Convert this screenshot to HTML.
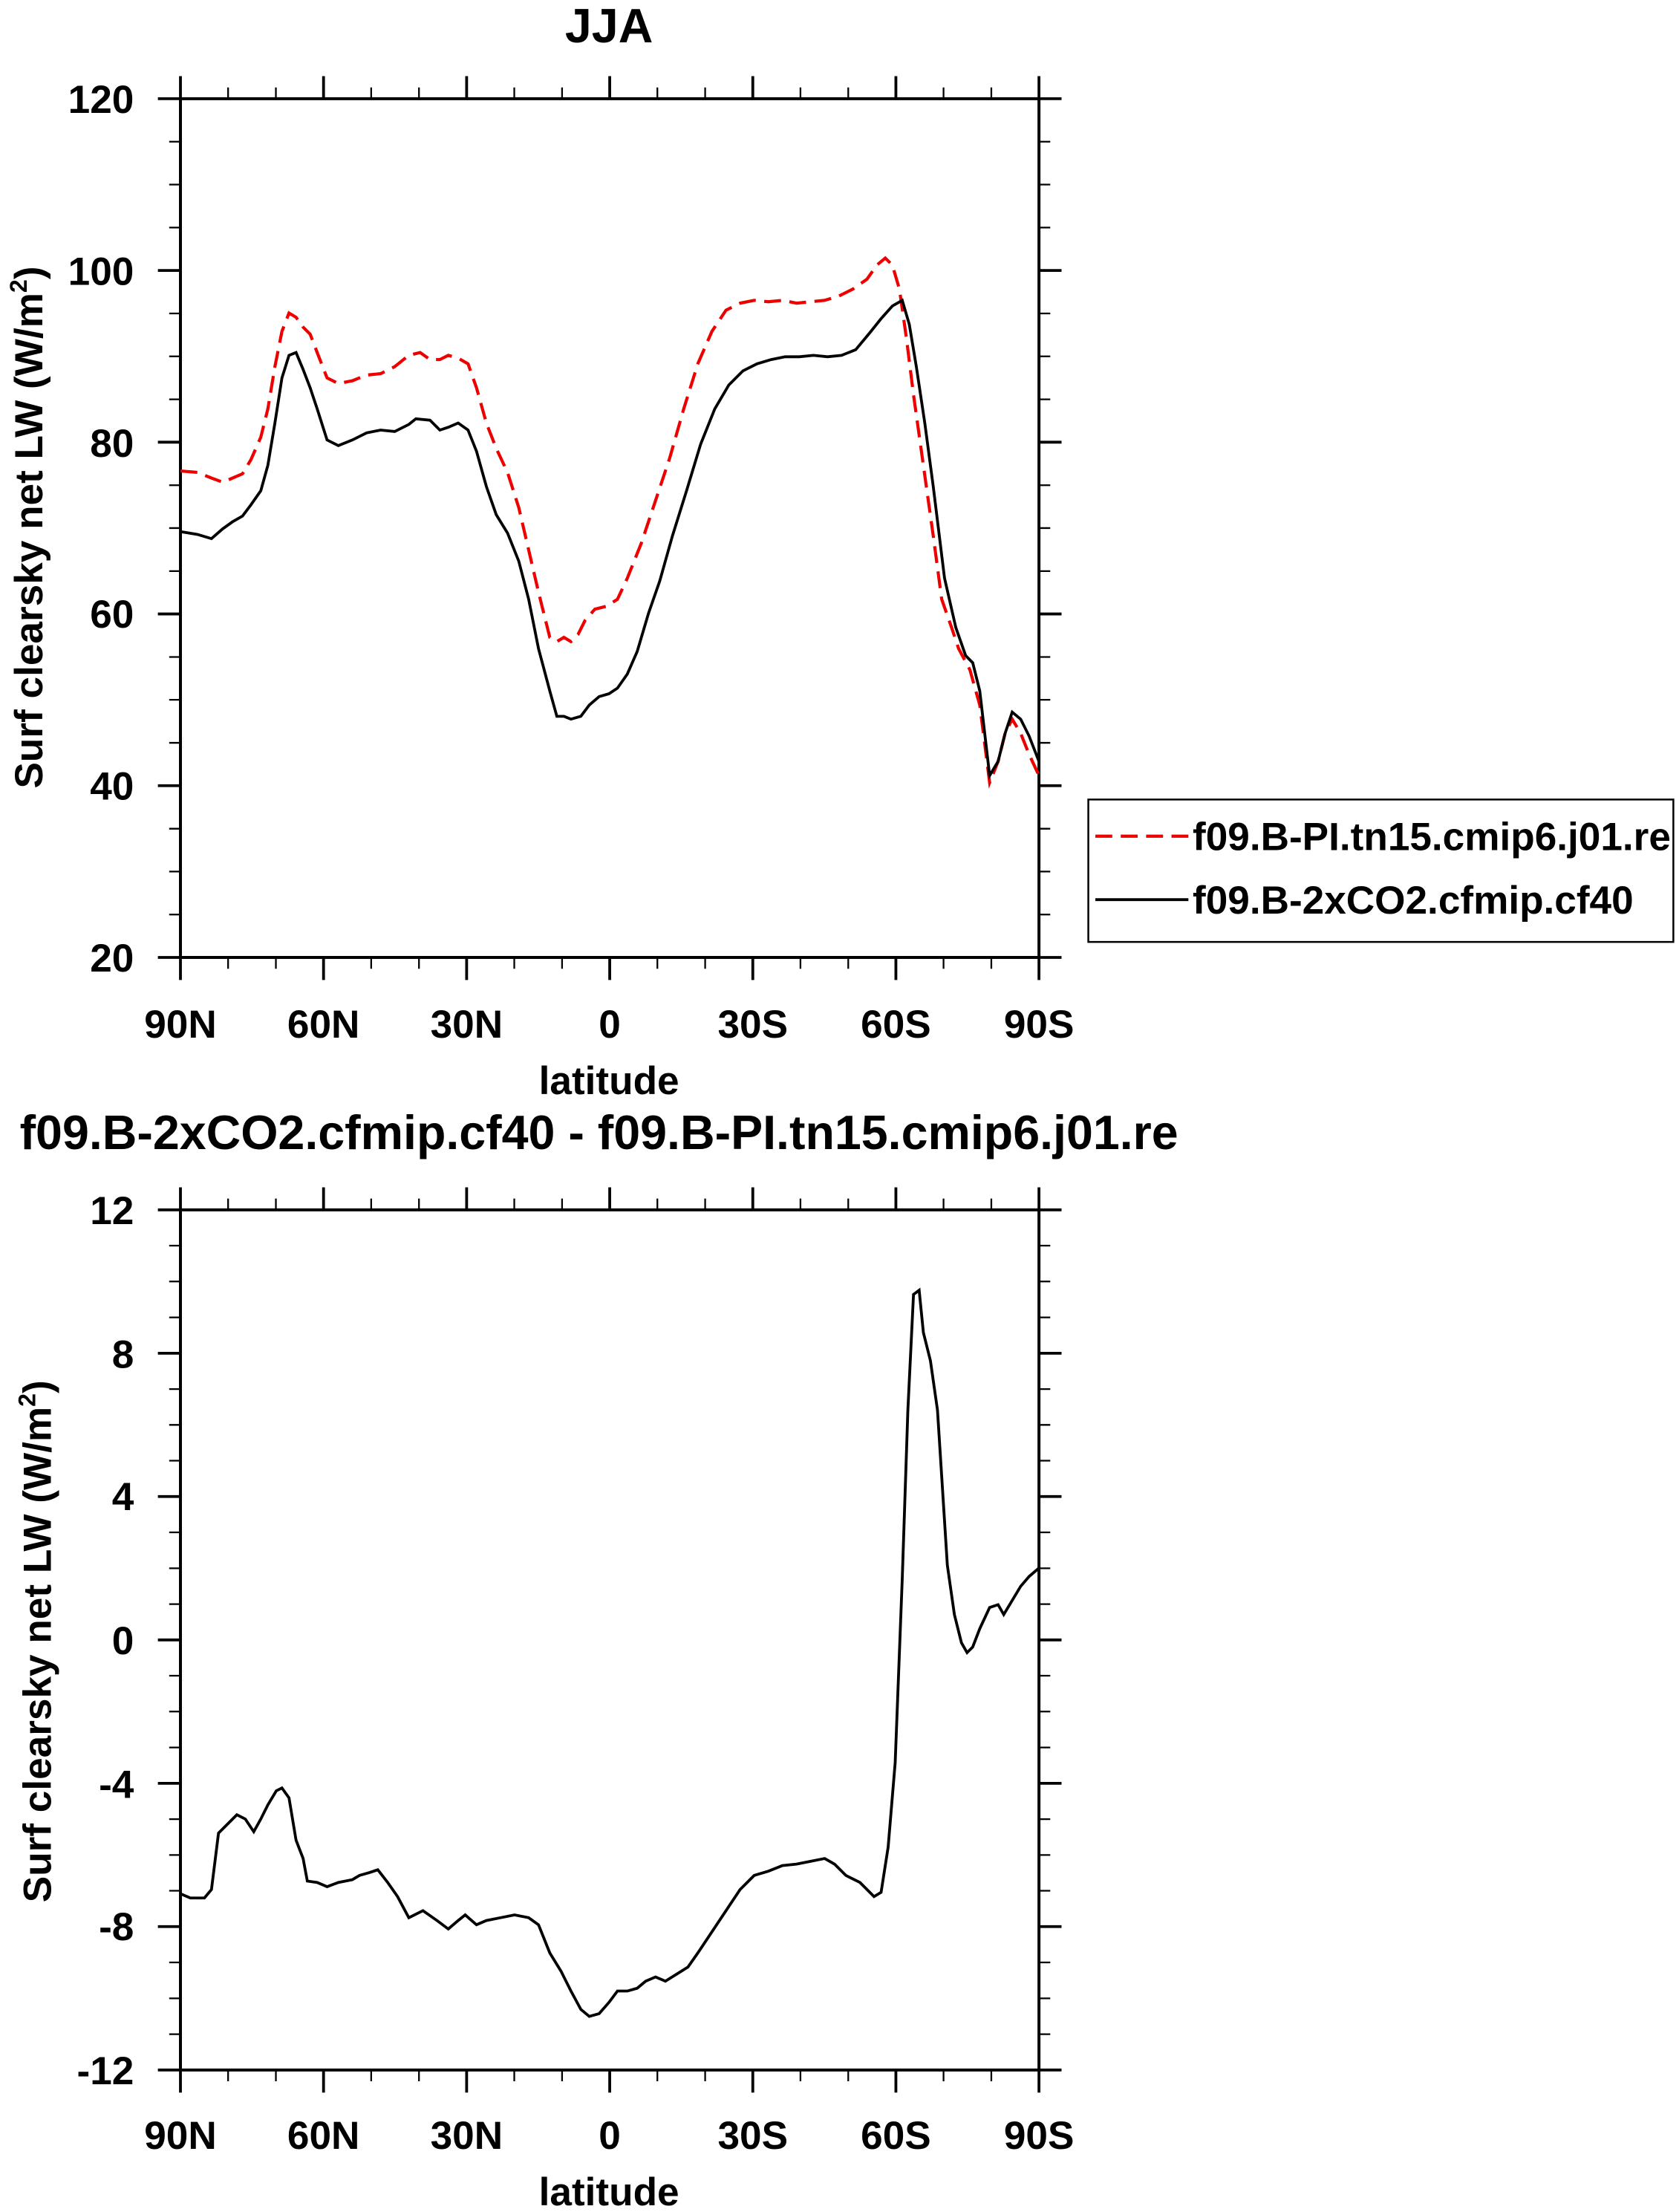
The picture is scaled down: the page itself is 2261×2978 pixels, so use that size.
<!DOCTYPE html>
<html><head><style>body{margin:0;background:#fff}svg{display:block}text{font-family:"Liberation Sans",sans-serif;font-weight:bold;fill:#000}</style></head>
<body>
<svg width="2261" height="2978" viewBox="0 0 1191 1568.7" xmlns="http://www.w3.org/2000/svg">
<rect width="1191" height="1568.7" fill="#fff"/>
<rect x="128" y="70" width="609" height="609" stroke="#000" stroke-width="2.1" fill="none"/>
<rect x="128" y="858" width="609" height="610" stroke="#000" stroke-width="2.1" fill="none"/>
<g font-size="28" text-anchor="middle">
<text x="432" y="30" font-size="34">JJA</text>
<text x="128" y="736">90N</text><text x="229.5" y="736">60N</text><text x="331" y="736">30N</text><text x="432.5" y="736">0</text><text x="534" y="736">30S</text><text x="635.5" y="736">60S</text><text x="737" y="736">90S</text>
<text x="432" y="776">latitude</text>
<text x="128" y="1524">90N</text><text x="229.5" y="1524">60N</text><text x="331" y="1524">30N</text><text x="432.5" y="1524">0</text><text x="534" y="1524">30S</text><text x="635.5" y="1524">60S</text><text x="737" y="1524">90S</text>
<text x="432" y="1564">latitude</text>
</g>
<g font-size="28" text-anchor="end">
<text x="95" y="80">120</text><text x="95" y="202">100</text><text x="95" y="324">80</text><text x="95" y="445">60</text><text x="95" y="567">40</text><text x="95" y="689">20</text>
<text x="95" y="868">12</text><text x="95" y="970">8</text><text x="95" y="1071">4</text><text x="95" y="1173">0</text><text x="95" y="1275">-4</text><text x="95" y="1376">-8</text><text x="95" y="1478">-12</text>
</g>
<text x="14" y="815" font-size="34">f09.B-2xCO2.cfmip.cf40 - f09.B-PI.tn15.cmip6.j01.re</text>
<text transform="translate(30,374) rotate(-90)" font-size="28" text-anchor="middle">Surf clearsky net LW (W/m<tspan font-size="17" dy="-11">2</tspan><tspan dy="11">)</tspan></text>
<text transform="translate(36,1164) rotate(-90)" font-size="28" text-anchor="middle">Surf clearsky net LW (W/m<tspan font-size="17" dy="-11">2</tspan><tspan dy="11">)</tspan></text>
<polyline fill="none" stroke="#e00" stroke-width="2.2" stroke-dasharray="12,6" points="128,334 140,335 150,339 158,342 165,339 172,336 178,326 185,310 190,290 195,260 200,235 205,222 210,225 215,232 220,237 225,250 232,268 240,272 250,270 260,266 270,265 280,260 290,252 298,250 305,255 312,255 318,252 325,254 332,258 338,275 345,300 352,318 360,335 368,360 375,390 382,420 390,452 395,455 400,452 405,455 410,450 415,440 422,432 430,430 438,425 445,410 455,385 465,355 475,325 485,290 495,258 505,235 515,220 525,215 535,213 545,214 555,213 565,215 575,214 585,213 595,210 605,205 615,198 622,188 628,183 633,188 638,205 643,240 648,280 655,330 662,380 668,425 675,445 680,460 688,475 695,500 702,555 708,540 713,520 718,510 724,520 730,535 737,550"/>
<polyline fill="none" stroke="#000" stroke-width="2" points="128,377 140,379 150,382 158,375 165,370 172,366 178,358 185,348 190,330 195,300 200,268 205,252 210,250 215,262 220,275 225,290 232,312 240,316 250,312 260,307 270,305 280,306 290,301 295,297 305,298 312,305 318,303 325,300 332,305 338,320 345,345 352,365 360,378 368,398 375,425 382,460 390,490 395,508 400,508 405,510 412,508 418,500 425,494 432,492 438,488 445,478 452,462 460,435 468,412 477,380 487,348 497,315 507,290 517,273 527,263 537,258 547,255 557,253 567,253 577,252 587,253 597,252 607,248 617,236 625,226 633,217 640,213 645,230 650,260 656,300 662,345 670,410 678,445 685,465 690,470 695,490 702,550 708,540 713,520 718,505 724,510 730,522 737,540"/>
<polyline fill="none" stroke="#000" stroke-width="2" points="128,1343 135,1346 145,1346 150,1340 155,1300 162,1293 168,1287 174,1290 180,1299 185,1290 190,1280 196,1270 200,1268 205,1275 210,1305 215,1318 218,1334 225,1335 232,1338 240,1335 250,1333 255,1330 262,1328 268,1326 275,1335 282,1345 290,1360 300,1355 310,1362 318,1368 325,1362 330,1358 338,1365 345,1362 355,1360 365,1358 375,1360 382,1365 390,1385 398,1398 405,1412 412,1425 418,1430 425,1428 432,1420 438,1412 445,1412 452,1410 458,1405 465,1402 472,1405 480,1400 488,1395 495,1385 505,1370 515,1355 525,1340 535,1330 545,1327 555,1323 565,1322 575,1320 585,1318 592,1322 600,1330 610,1335 620,1345 625,1342 630,1310 635,1250 640,1120 644,1000 648,918 652,915 655,945 660,965 665,1000 672,1110 677,1145 682,1165 686,1172 690,1168 695,1155 702,1140 708,1138 712,1145 718,1135 724,1125 730,1118 737,1112"/>
<rect x="772" y="567" width="415" height="101" fill="none" stroke="#000" stroke-width="1.3"/>
<line x1="777" y1="593" x2="843" y2="593" stroke="#e00" stroke-width="2.2" stroke-dasharray="12,6"/>
<line x1="777" y1="638" x2="843" y2="638" stroke="#000" stroke-width="2"/>
<text x="846" y="603" font-size="28">f09.B-PI.tn15.cmip6.j01.re</text>
<text x="846" y="648" font-size="28">f09.B-2xCO2.cfmip.cf40</text>
<g stroke="#000" fill="none">
<path stroke-width="2" d="M128,70v-16M229.5,70v-16M331,70v-16M432.5,70v-16M534,70v-16M635.5,70v-16M737,70v-16M128,679v16M229.5,679v16M331,679v16M432.5,679v16M534,679v16M635.5,679v16M737,679v16M128,858v-16M229.5,858v-16M331,858v-16M432.5,858v-16M534,858v-16M635.5,858v-16M737,858v-16M128,1468v16M229.5,1468v16M331,1468v16M432.5,1468v16M534,1468v16M635.5,1468v16M737,1468v16M128,70h-16M128,191.8h-16M128,313.6h-16M128,435.4h-16M128,557.2h-16M128,679h-16M737,70h16M737,191.8h16M737,313.6h16M737,435.4h16M737,557.2h16M737,679h16M128,858h-16M128,959.7h-16M128,1061.3h-16M128,1163h-16M128,1264.7h-16M128,1366.3h-16M128,1468h-16M737,858h16M737,959.7h16M737,1061.3h16M737,1163h16M737,1264.7h16M737,1366.3h16M737,1468h16"/>
<path stroke-width="1.2" d="M161.8,70v-8M195.7,70v-8M263.3,70v-8M297.2,70v-8M364.8,70v-8M398.7,70v-8M466.3,70v-8M500.2,70v-8M567.8,70v-8M601.7,70v-8M669.3,70v-8M703.2,70v-8M161.8,679v8M195.7,679v8M263.3,679v8M297.2,679v8M364.8,679v8M398.7,679v8M466.3,679v8M500.2,679v8M567.8,679v8M601.7,679v8M669.3,679v8M703.2,679v8M161.8,858v-8M195.7,858v-8M263.3,858v-8M297.2,858v-8M364.8,858v-8M398.7,858v-8M466.3,858v-8M500.2,858v-8M567.8,858v-8M601.7,858v-8M669.3,858v-8M703.2,858v-8M161.8,1468v8M195.7,1468v8M263.3,1468v8M297.2,1468v8M364.8,1468v8M398.7,1468v8M466.3,1468v8M500.2,1468v8M567.8,1468v8M601.7,1468v8M669.3,1468v8M703.2,1468v8"/>
<path stroke-width="1.2" d="M128,100.5h-8M128,130.9h-8M128,161.4h-8M128,222.3h-8M128,252.7h-8M128,283.2h-8M128,344.1h-8M128,374.5h-8M128,405h-8M128,465.9h-8M128,496.3h-8M128,526.8h-8M128,587.7h-8M128,618.1h-8M128,648.6h-8M737,100.5h8M737,130.9h8M737,161.4h8M737,222.3h8M737,252.7h8M737,283.2h8M737,344.1h8M737,374.5h8M737,405h8M737,465.9h8M737,496.3h8M737,526.8h8M737,587.7h8M737,618.1h8M737,648.6h8"/>
<path stroke-width="1.2" d="M128,883.4h-8M128,908.8h-8M128,934.3h-8M128,985.1h-8M128,1010.5h-8M128,1035.9h-8M128,1086.7h-8M128,1112.2h-8M128,1137.6h-8M128,1188.4h-8M128,1213.8h-8M128,1239.3h-8M128,1290.1h-8M128,1315.5h-8M128,1340.9h-8M128,1391.7h-8M128,1417.2h-8M128,1442.6h-8M737,883.4h8M737,908.8h8M737,934.3h8M737,985.1h8M737,1010.5h8M737,1035.9h8M737,1086.7h8M737,1112.2h8M737,1137.6h8M737,1188.4h8M737,1213.8h8M737,1239.3h8M737,1290.1h8M737,1315.5h8M737,1340.9h8M737,1391.7h8M737,1417.2h8M737,1442.6h8"/>
</g>
</svg>
</body></html>
